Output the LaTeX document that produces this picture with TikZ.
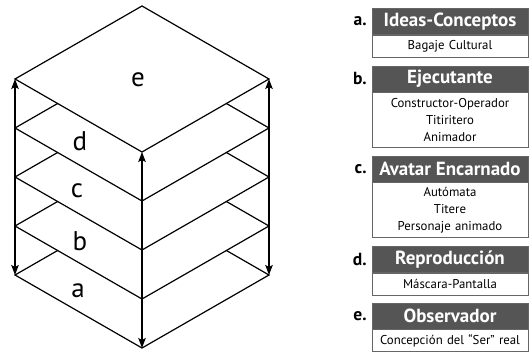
\documentclass[tikz,border=0pt]{standalone}
\usepackage{fontspec}
\setmainfont{PT Sans}
\usetikzlibrary{arrows.meta, positioning}
\definecolor{headgray}{HTML}{555555}
\definecolor{boxgray}{HTML}{666666}
\tikzset{
    layer/.style={draw=black, fill=white, line width=1.2pt, line join=miter},
    dimarrow/.style={line width=1.2pt, {Stealth[length=10pt,width=7.5pt,inset=2pt]}-{Stealth[length=10pt,width=7.5pt,inset=2pt]}},
    head/.style={rectangle, draw=boxgray, fill=headgray, text=white, minimum width=156pt, minimum height=26pt, inner sep=0pt, font=\bfseries\fontsize{19}{21}\selectfont},
    sub/.style={rectangle, draw=boxgray, line width=0.9pt, fill=white, minimum width=156pt, text width=150pt, align=center, inner sep=0pt, font=\fontsize{12.8}{17}\selectfont},
    tag/.style={font=\bfseries\fontsize{17.5}{19}\selectfont, inner sep=0pt},
    lbl/.style={font=\fontsize{27}{30}\selectfont, inner sep=0pt},
}

\begin{document}
\begin{tikzpicture}[x=1pt, y=-1pt]
    \useasboundingbox (0,0) rectangle (529,352);
    % stacked layers, bottom first
    \foreach \lay/\yc in {a/275,b/226,c/177,d/128,e/79}{
        \coordinate (\lay-L) at (15,\yc);
        \coordinate (\lay-R) at (269,\yc);
        \coordinate (\lay-T) at (142,\yc-73);
        \coordinate (\lay-B) at (142,\yc+73);
        \draw[layer] (\lay-L) -- (\lay-T) -- (\lay-R) -- (\lay-B) -- cycle;
    }
    \draw[dimarrow] (e-L) -- (a-L);
    \draw[dimarrow] (e-R) -- (a-R);
    \draw[dimarrow] (e-B) -- (a-B);

    \node[lbl] (labE) at (138,80) {e};
    \node[lbl] (labD) at (80,141) {d};
    \node[lbl] (labC) at (77,191) {c};
    \node[lbl] (labB) at (80,241) {b};
    \node[lbl] (labA) at (78,291) {a};

    % legend boxes
    \node[head] (hA) at (450,21.5) {Ideas-Conceptos};
    \node[sub, minimum height=22pt, below=0pt of hA] (sA) {Bagaje Cultural};
    \node[head, below=8pt of sA] (hB) {Ejecutante};
    \node[sub, minimum height=55pt, below=0pt of hB] (sB) {Constructor-Operador\\Titiritero\\Animador};
    \node[head, below=8pt of sB] (hC) {Avatar Encarnado};
    \node[sub, minimum height=55pt, below=0pt of hC] (sC) {Autómata\\Titere\\Personaje animado};
    \node[head, below=8pt of sC] (hD) {Reproducción};
    \node[sub, minimum height=22pt, below=0pt of hD] (sD) {Máscara-Pantalla};
    \node[head, below=7pt of sD] (hE) {Observador};
    \node[sub, minimum height=22pt, below=0pt of hE] (sE) {Concepción del “Ser” real};

    \node[tag, left=5pt of hA] (tA) {a.};
    \node[tag, left=5pt of hB] (tB) {b.};
    \node[tag, left=5pt of hC] (tC) {c.};
    \node[tag, left=5pt of hD] (tD) {d.};
    \node[tag, left=5pt of hE] (tE) {e.};
\end{tikzpicture}
\end{document}
